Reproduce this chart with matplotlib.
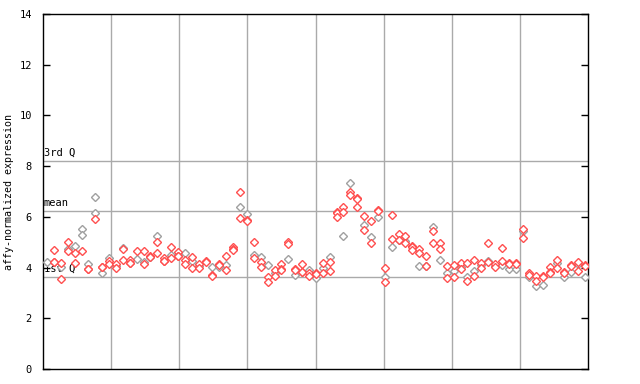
import numpy as np
import matplotlib
matplotlib.use("Agg")
import matplotlib.pyplot as plt

# expression values per sample (79 samples), split by point colour
red_vals = [
    [], [4.69, 4.21, 4.21], [4.17, 3.55], [5.01, 4.65], [4.56, 4.17],
    [4.65], [3.93, 3.93], [5.90], [4.03, 4.03], [4.26, 4.14],
    [4.13, 3.97], [4.72, 4.30], [4.30, 4.17, 4.17], [4.65], [4.65, 4.13],
    [4.45, 4.43], [5.01, 4.56], [4.36, 4.26, 4.24], [4.80, 4.36], [4.61, 4.47, 4.45],
    [4.30, 4.14], [4.42, 3.97], [4.13, 3.97], [4.25, 4.21], [3.69, 3.65],
    [4.15, 4.11], [4.44, 3.90], [4.80, 4.75, 4.70], [6.97, 5.94], [5.88, 5.82],
    [5.01, 4.36], [4.23, 4.03], [3.64, 3.42], [3.90, 3.68], [4.13, 3.95, 3.91],
    [5.00, 4.93], [3.95, 3.91], [4.13, 3.84, 3.84], [3.77, 3.67], [3.77, 3.73],
    [4.17, 3.80], [4.21, 3.85], [6.20, 6.16, 6.01], [6.38, 6.20], [6.97, 6.87],
    [6.74, 6.70, 6.38], [6.02, 5.47], [5.82, 4.96], [6.26, 6.22], [3.97, 3.42],
    [6.06, 5.11], [5.32, 5.07], [5.23, 4.96], [4.84, 4.80, 4.68], [4.72, 4.56],
    [4.44, 4.05], [5.43, 4.96], [4.96, 4.72], [4.05, 3.58], [4.09, 3.64],
    [4.17, 3.93], [4.17, 3.46], [4.28, 3.66], [4.19, 3.97], [4.96, 4.21],
    [4.13, 4.01], [4.76, 4.25], [4.19, 4.15], [4.19, 4.15], [5.51, 5.15],
    [3.77, 3.69], [3.68, 3.46], [3.66, 3.62], [4.01, 3.82, 3.78], [4.30, 3.97],
    [3.82, 3.78], [4.11, 4.07], [4.23, 3.85], [4.11, 4.07],
]
grey_vals = [
    [4.21], [], [4.01], [4.72], [4.84],
    [5.52, 5.27], [4.14], [6.78, 6.15], [3.77], [4.36],
    [4.05], [4.76], [], [4.32], [4.21],
    [4.40], [5.23], [], [4.50], [],
    [4.56], [4.26], [4.05], [], [4.01],
    [4.01], [4.10], [], [6.38], [6.10],
    [4.50], [4.43], [4.09], [3.80], [],
    [4.32], [3.72], [], [3.90], [3.59],
    [3.97], [4.40], [], [5.23], [7.32],
    [], [5.67], [5.19], [5.98], [3.62],
    [4.80], [5.07], [5.05], [], [4.07],
    [4.05], [5.59], [4.29], [3.77], [3.85],
    [4.01], [3.62], [3.85], [4.09], [4.25],
    [4.05], [4.09], [3.96], [3.93], [5.43],
    [3.62], [3.26], [3.30], [], [4.19],
    [3.62], [3.81], [4.13], [3.62],
]
q1, mean_v, q3 = 3.64, 6.23, 8.22
yticks = [0, 2, 4, 6, 8, 10, 12, 14]


def flatten(vals):
    xs, ys = [], []
    for i, v in enumerate(vals):
        xs += [i] * len(v)
        ys += v
    return np.array(xs), np.array(ys)


plt.rcParams['font.family'] = 'DejaVu Sans Mono'
fig = plt.figure(figsize=(6.4, 3.84), dpi=100)
ax = fig.add_axes([43 / 640, 15 / 384, 545 / 640, 355 / 384])

x0, x1 = -0.6, 78.5
ax.set_xlim(x0, x1)
ax.set_ylim(0, 14)

# vertical separators: axis split in 8 equal parts
for k in range(1, 8):
    ax.axvline(x0 + (x1 - x0) * k / 8, color='#aaaaaa', lw=1, zorder=1)
for val, lab in [(q3, '3rd Q'), (mean_v, 'mean'), (q1, '1st Q')]:
    ax.axhline(val, color='#aaaaaa', lw=1, zorder=1)
    ax.text(x0 + 0.1, val + 0.12, lab, fontsize=7.5, va='bottom', ha='left', zorder=2)

xg, yg = flatten(grey_vals)
xr, yr = flatten(red_vals)
ax.plot(xg, yg, 'D', ms=3.8, mfc='white', mec='#a0a0a0', mew=1, ls='none', zorder=3)
ax.plot(xr, yr, 'D', ms=3.8, mfc='white', mec='#ff4f4f', mew=1, ls='none', zorder=4)

ax.set_yticks(yticks)
ax.set_xticks([])
ax.tick_params(axis='y', direction='in', length=5, width=1, right=True,
               labelsize=7.5, pad=8)
for s in ax.spines.values():
    s.set_linewidth(1)
ax.set_ylabel('affy-normalized expression', fontsize=7.2, labelpad=4)

fig.savefig('out.png', dpi=100)
